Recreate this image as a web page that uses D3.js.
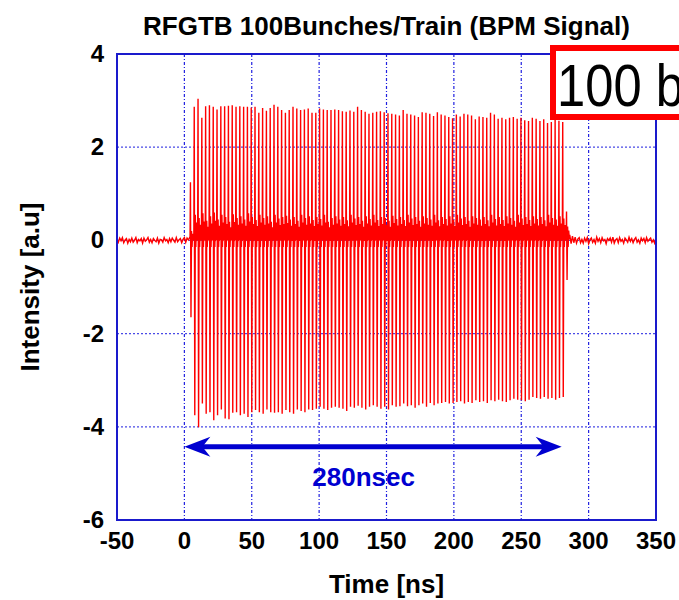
<!DOCTYPE html>
<html>
<head>
<meta charset="utf-8">
<script src="https://cdn.jsdelivr.net/npm/d3@7"></script>
<style>
  body { margin: 0; background: #fff; }
  text { font-family: "Liberation Sans", Arial, sans-serif; font-weight: bold; }
</style>
</head>
<body>
<div id="container"></div>
<script>
/* CONSTANTS AND GLOBALS */
const width = 679,
  height = 600,
  margin = {top: 54, bottom: 80, left: 117, right: 23};

/* DATA */
const xTicks = [-50, 0, 50, 100, 150, 200, 250, 300, 350];
const yTicks = [-6, -4, -2, 0, 2, 4];

// peak of each bunch (positive and negative)
const bunchHi = [
  1.25, 2.87, 3.04, 2.63, 2.88, 2.90, 2.87, 2.81, 2.88, 2.88,
  2.89, 2.90, 2.87, 2.88, 2.87, 2.87, 2.85, 2.87, 2.74, 2.84,
  2.78, 2.84, 2.91, 2.87, 2.80, 2.74, 2.80, 2.87, 2.83, 2.80,
  2.81, 2.83, 2.74, 2.74, 2.83, 2.81, 2.80, 2.80, 2.81, 2.80,
  2.77, 2.76, 2.79, 2.76, 2.87, 2.80, 2.76, 2.72, 2.74, 2.76,
  2.77, 2.75, 2.73, 2.72, 2.70, 2.68, 2.80, 2.72, 2.70, 2.68,
  2.65, 2.75, 2.74, 2.72, 2.67, 2.75, 2.70, 2.68, 2.65, 2.62,
  2.70, 2.66, 2.72, 2.70, 2.68, 2.60, 2.66, 2.65, 2.63, 2.74,
  2.70, 2.61, 2.63, 2.60, 2.63, 2.65, 2.61, 2.63, 2.58, 2.56,
  2.63, 2.61, 2.56, 2.60, 2.52, 2.54, 2.66, 2.57, 2.54, 0.62
];
const bunchLo = [
  -1.65, -3.75, -4.01, -3.50, -3.72, -3.69, -3.86, -3.75, -3.63, -3.82,
  -3.84, -3.70, -3.69, -3.75, -3.72, -3.79, -3.69, -3.64, -3.69, -3.72,
  -3.63, -3.69, -3.70, -3.69, -3.72, -3.64, -3.69, -3.72, -3.63, -3.66,
  -3.69, -3.63, -3.64, -3.61, -3.57, -3.61, -3.64, -3.59, -3.57, -3.59,
  -3.61, -3.66, -3.57, -3.59, -3.55, -3.59, -3.63, -3.57, -3.54, -3.57,
  -3.61, -3.57, -3.63, -3.54, -3.57, -3.56, -3.50, -3.56, -3.54, -3.59,
  -3.54, -3.50, -3.57, -3.49, -3.54, -3.50, -3.49, -3.47, -3.50, -3.49,
  -3.47, -3.45, -3.50, -3.47, -3.49, -3.43, -3.47, -3.45, -3.49, -3.43,
  -3.45, -3.42, -3.45, -3.47, -3.43, -3.40, -3.42, -3.43, -3.45, -3.42,
  -3.36, -3.38, -3.40, -3.36, -3.40, -3.38, -3.42, -3.38, -3.36, -0.85
];
// ringing overshoot after each bunch
const bunchRing = [
  0.20, 0.55, 0.48, 0.58, 0.42, 0.52, 0.60, 0.45, 0.55, 0.50,
  0.40, 0.56, 0.48, 0.52, 0.45, 0.58, 0.50, 0.44, 0.55, 0.48,
  0.52, 0.40, 0.55, 0.47, 0.50, 0.53, 0.45, 0.50, 0.42, 0.55,
  0.48, 0.52, 0.44, 0.50, 0.46, 0.55, 0.40, 0.48, 0.52, 0.45,
  0.50, 0.43, 0.55, 0.47, 0.50, 0.42, 0.52, 0.46, 0.55, 0.44,
  0.50, 0.48, 0.42, 0.53, 0.46, 0.50, 0.44, 0.55, 0.47, 0.50,
  0.42, 0.52, 0.48, 0.45, 0.55, 0.43, 0.50, 0.46, 0.52, 0.44,
  0.55, 0.47, 0.50, 0.42, 0.52, 0.48, 0.45, 0.50, 0.43, 0.55,
  0.46, 0.50, 0.44, 0.52, 0.48, 0.42, 0.55, 0.47, 0.50, 0.44,
  0.52, 0.46, 0.50, 0.43, 0.55, 0.48, 0.45, 0.52, 0.47, 0.30
];
// shape of one pulse: time offsets (ns) after the bunch arrival
const pulseDt = [0, 0.3, 0.7, 1.1, 1.5, 1.9, 2.4];

// baseline noise, 1 ns samples, before the train (-50..4 ns) and after it (286..350 ns)
const preNoise = [
  0.03, -0.04, 0.05, -0.01, 0.06, -0.05, 0.01, 0.04, -0.06, 0.02,
  -0.03, 0.05, -0.04, 0.00, 0.06, -0.05, 0.02, -0.01, 0.04, -0.06,
  0.05, -0.02, 0.01, 0.06, -0.04, 0.02, -0.05, 0.04, 0.00, -0.03,
  0.05, -0.06, 0.02, 0.01, -0.04, 0.06, -0.01, 0.02, -0.05, 0.04,
  -0.03, 0.05, 0.00, -0.04, 0.06, -0.03, 0.01, 0.04, -0.05, 0.02,
  0.06, -0.04, 0.05, 0.01, 0.07
];
const postNoise = [
  0.12, -0.07, 0.09, -0.05, 0.07, -0.06, 0.03, 0.06, -0.05, 0.02,
  -0.06, 0.05, -0.02, 0.06, -0.07, 0.01, 0.05, -0.04, 0.02, -0.06,
  0.07, -0.02, 0.04, -0.05, 0.06, -0.01, 0.02, -0.07, 0.04, 0.00,
  0.05, -0.04, 0.07, -0.06, 0.01, 0.04, -0.05, 0.06, -0.02, 0.02,
  -0.06, 0.05, 0.01, -0.04, 0.07, -0.02, 0.04, -0.05, 0.02, 0.06,
  -0.04, 0.01, -0.06, 0.05, -0.01, 0.04, -0.05, 0.06, -0.02, 0.02,
  0.05, -0.04, 0.01, -0.06, 0.04
];

const trainSpan = [4.2, 283.3];   // first and last bunch time (ns)
const arrowSpan = [0, 280], arrowLevel = -4.43;
const arrowLabel = "280nsec", arrowLabelAt = [133, -5.27];

/* SCALES */
const xScale = d3.scaleLinear().domain([-50, 350]).range([margin.left, width - margin.right]);
const yScale = d3.scaleLinear().domain([-6, 4]).range([height - margin.bottom, margin.top]);
const bunchTime = d3.scaleLinear().domain([0, bunchHi.length - 1]).range(trainSpan);

/* BUILD SIGNAL */
const signal = [];
preNoise.forEach((v, i) => signal.push([-50 + i, v]));
bunchHi.forEach((hi, i) => {
  const t = bunchTime(i), r = bunchRing[i];
  const vals = [0.04, hi, bunchLo[i], r, -0.14, r * 0.7, 0.02];
  pulseDt.forEach((dt, k) => signal.push([t + dt, vals[k]]));
});
postNoise.forEach((v, i) => signal.push([286 + i, v]));

/* HTML ELEMENTS */
const svg = d3.select("#container")
  .append("svg")
  .attr("width", width)
  .attr("height", height);

svg.append("clipPath").attr("id", "plotclip")
  .append("rect")
  .attr("x", margin.left).attr("y", margin.top)
  .attr("width", width - margin.left - margin.right)
  .attr("height", height - margin.top - margin.bottom);

// grid
svg.append("g")
  .selectAll("line")
  .data(xTicks.slice(1, -1))
  .join("line")
  .attr("x1", d => xScale(d)).attr("x2", d => xScale(d))
  .attr("y1", margin.top).attr("y2", height - margin.bottom)
  .attr("stroke", "#2020e0").attr("stroke-width", 1.2)
  .attr("stroke-dasharray", "3,2,1,2");

svg.append("g")
  .selectAll("line")
  .data(yTicks.slice(1, -1))
  .join("line")
  .attr("y1", d => yScale(d)).attr("y2", d => yScale(d))
  .attr("x1", margin.left).attr("x2", width - margin.right)
  .attr("stroke", "#4a4ae6").attr("stroke-width", 1.2)
  .attr("stroke-dasharray", "2,2");

// signal
svg.append("path")
  .datum(signal)
  .attr("clip-path", "url(#plotclip)")
  .attr("fill", "none")
  .attr("stroke", "#ff0000")
  .attr("stroke-width", 1.4)
  .attr("d", d3.line().x(d => xScale(d[0])).y(d => yScale(d[1])));

// frame
svg.append("rect")
  .attr("x", margin.left).attr("y", margin.top)
  .attr("width", width - margin.left - margin.right)
  .attr("height", height - margin.top - margin.bottom)
  .attr("fill", "none")
  .attr("stroke", "#1a1acc")
  .attr("stroke-width", 2);

// tick labels
svg.append("g")
  .selectAll("text")
  .data(xTicks)
  .join("text")
  .attr("x", d => xScale(d))
  .attr("y", height - margin.bottom + 29)
  .attr("text-anchor", "middle")
  .style("font-size", "24px")
  .text(d => d);

svg.append("g")
  .selectAll("text")
  .data(yTicks)
  .join("text")
  .attr("x", margin.left - 13)
  .attr("y", d => yScale(d) + 8)
  .attr("text-anchor", "end")
  .style("font-size", "24px")
  .text(d => d);

// arrow
const ay = yScale(arrowLevel), ax0 = xScale(arrowSpan[0]), ax1 = xScale(arrowSpan[1]);
svg.append("line")
  .attr("x1", ax0 + 16).attr("x2", ax1 - 16)
  .attr("y1", ay).attr("y2", ay)
  .attr("stroke", "#0000d0").attr("stroke-width", 5);
svg.append("path")
  .attr("fill", "#0000d0")
  .attr("d", `M${ax0},${ay} L${ax0 + 26},${ay - 10} L${ax0 + 18},${ay} L${ax0 + 26},${ay + 10} Z
              M${ax1},${ay} L${ax1 - 26},${ay - 10} L${ax1 - 18},${ay} L${ax1 - 26},${ay + 10} Z`);
svg.append("text")
  .attr("x", xScale(arrowLabelAt[0]))
  .attr("y", yScale(arrowLabelAt[1]))
  .attr("text-anchor", "middle")
  .attr("fill", "#0000d0")
  .style("font-size", "26px")
  .text(arrowLabel);

// title and axis labels
svg.append("text")
  .attr("x", (margin.left + width - margin.right) / 2)
  .attr("y", 35)
  .attr("text-anchor", "middle")
  .style("font-size", "26px")
  .text("RFGTB 100Bunches/Train (BPM Signal)");

svg.append("text")
  .attr("x", (margin.left + width - margin.right) / 2)
  .attr("y", 593)
  .attr("text-anchor", "middle")
  .style("font-size", "26px")
  .text("Time [ns]");

svg.append("text")
  .attr("transform", `translate(39,${(margin.top + height - margin.bottom) / 2}) rotate(-90)`)
  .attr("text-anchor", "middle")
  .style("font-size", "26px")
  .text("Intensity [a.u]");

// label box, clipped by the page edge
svg.append("rect")
  .attr("x", 553).attr("y", 48)
  .attr("width", 200).attr("height", 69)
  .attr("fill", "#fff")
  .attr("stroke", "#ff0000")
  .attr("stroke-width", 6);
svg.append("text")
  .attr("transform", "translate(557,106) scale(0.86,1)")
  .style("font-weight", "normal")
  .style("font-size", "59px")
  .text("100 bunches");
</script>
</body>
</html>
